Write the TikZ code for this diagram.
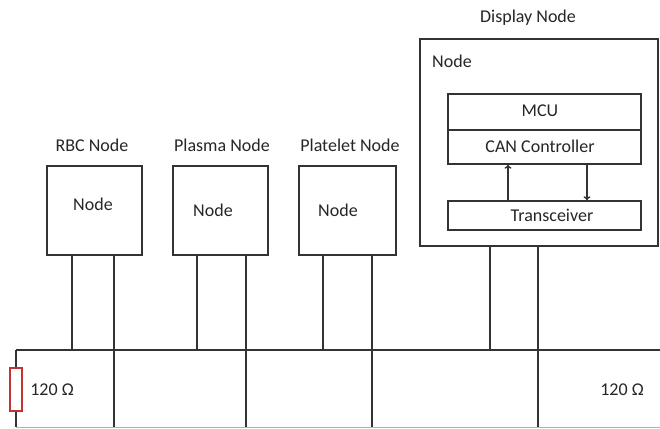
\documentclass[tikz,border=0pt]{standalone}
\usepackage{fontspec}
\setmainfont{Carlito}
\usetikzlibrary{arrows.meta}
\tikzset{
  box/.style={draw=black!80, line width=1.4pt, inner sep=0pt},
  lbl/.style={font=\fontsize{18}{21}\selectfont, text=black!85, inner sep=0pt},
  wire/.style={draw=black!80, line width=1.4pt},
  res/.style={draw=red!70!black!80, line width=1.1pt, minimum width=12pt, minimum height=43pt, inner sep=0pt},
}
\begin{document}
\begin{tikzpicture}
[x=1pt, y=-1pt]
\useasboundingbox (0,0) rectangle (660,428);
\fill[white] (0,0) rectangle (660,428);
% bus
\coordinate (hl) at (16,350);
\coordinate (hr) at (660,350);
\coordinate (ll) at (16,427);
\coordinate (lr) at (660,427);
\draw[wire] (hl) -- (hr);
\draw[draw=black!30, line width=1pt] (ll) -- (lr);
\node[res] (r1) at (16,389.5) {};
\draw[wire] (hl) -- (r1.north);
\draw[wire] (r1.south) -- (ll);
\node[lbl] (t1) at (52,390) {120 Ω};
\node[lbl] (t2) at (622,390) {120 Ω};
% nodes
\node[box, minimum width=95pt, minimum height=89pt] (rbc) at (94.5,210.5) {};
\node[box, minimum width=95pt, minimum height=89pt] (plasma) at (220.5,210.5) {};
\node[box, minimum width=97pt, minimum height=89pt] (platelet) at (347.5,210.5) {};
\node[lbl] (rbclbl) at (92,145) {RBC Node};
\node[lbl] (plasmalbl) at (222,145) {Plasma Node};
\node[lbl] (plateletlbl) at (350,145) {Platelet Node};
\node[lbl] (rbctxt) at (93,204) {Node};
\node[lbl] (plasmatxt) at (213,210) {Node};
\node[lbl] (platelettxt) at (338,210) {Node};
% display node
\node[box, minimum width=238pt, minimum height=207pt] (disp) at (539,142.5) {};
\node[lbl] (displbl) at (528,18) {Display Node};
\node[lbl] (disptxt) at (452,61) {Node};
\node[box, minimum width=193pt, minimum height=36pt] (mcu) at (544.5,112) {};
\node[box, minimum width=193pt, minimum height=34pt] (can) at (544.5,147) {};
\node[box, minimum width=193pt, minimum height=29pt] (trans) at (544.5,215.5) {};
\node[lbl] (mcutxt) at (540,111) {MCU};
\node[lbl] (cantxt) at (540,146) {CAN Controller};
\node[lbl] (transtxt) at (552,215) {Transceiver};
\draw[wire, -{To[length=4pt,width=7pt]}] (508,0 |- trans.north) -- (508,0 |- can.south);
\draw[wire, -{To[length=4pt,width=7pt]}] (587,0 |- can.south) -- (587,0 |- trans.north);
% stubs
\draw[wire] (72,0 |- rbc.south) -- (72,0 |- hl);
\draw[wire] (114,0 |- rbc.south) -- (114,0 |- ll);
\draw[wire] (197,0 |- plasma.south) -- (197,0 |- hl);
\draw[wire] (246,0 |- plasma.south) -- (246,0 |- ll);
\draw[wire] (323,0 |- platelet.south) -- (323,0 |- hl);
\draw[wire] (372,0 |- platelet.south) -- (372,0 |- ll);
\draw[wire] (490,0 |- disp.south) -- (490,0 |- hl);
\draw[wire] (538,0 |- disp.south) -- (538,0 |- ll);
\end{tikzpicture}
\end{document}
